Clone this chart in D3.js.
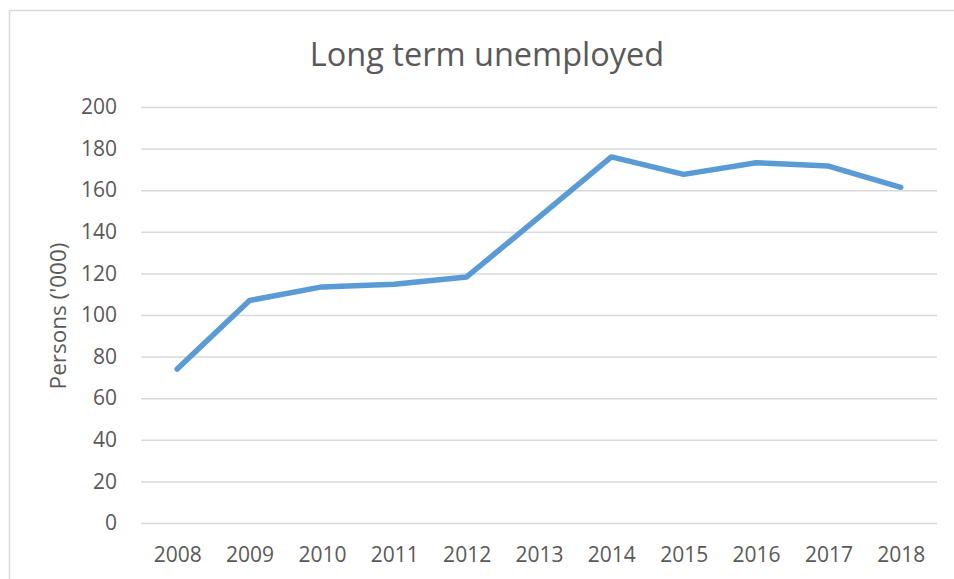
<!DOCTYPE html>
<html>
<head>
<meta charset="utf-8">
<script src="https://cdn.jsdelivr.net/npm/d3@7"></script>
<style>
  body { margin: 0; background: #fff; }
  text { font-family: "Open Sans", sans-serif; fill: #595959; }
</style>
</head>
<body>
<svg width="954" height="579"></svg>
<script>
// data
var years = ["2008", "2009", "2010", "2011", "2012", "2013", "2014", "2015", "2016", "2017", "2018"];
var persons = [74, 107, 113.5, 114.8, 118.3, 147, 176, 167.6, 173.2, 171.6, 161.4];
var yTicks = [0, 20, 40, 60, 80, 100, 120, 140, 160, 180, 200];

var svg = d3.select("svg"),
    margin = {top: 107, right: 17, bottom: 56, left: 141},
    width = +svg.attr("width") - margin.left - margin.right,
    height = +svg.attr("height") - margin.top - margin.bottom;

// chart frame (runs off the right and bottom edges like the original)
svg.append("rect")
    .attr("x", 9.5)
    .attr("y", 10.5)
    .attr("width", 960)
    .attr("height", 600)
    .attr("fill", "none")
    .attr("stroke", "#d9d9d9")
    .attr("stroke-width", 1.5);

var x = d3.scalePoint()
    .domain(years)
    .range([0, width])
    .padding(0.5);

var y = d3.scaleLinear()
    .domain([0, 200])
    .range([height, 0]);

var g = svg.append("g")
    .attr("transform", "translate(" + margin.left + "," + margin.top + ")");

// gridlines + y labels
var yAxis = g.append("g")
    .attr("class", "axis axis--y")
    .call(d3.axisLeft(y).tickValues(yTicks).tickSize(-width).tickPadding(24));

yAxis.select(".domain").remove();
yAxis.selectAll(".tick line")
    .attr("stroke", "#d9d9d9")
    .attr("stroke-width", 1.5);
yAxis.selectAll(".tick text")
    .style("font-size", "21px")
    .attr("fill", "#595959");

// x labels
var xAxis = g.append("g")
    .attr("class", "axis axis--x")
    .attr("transform", "translate(0," + height + ")")
    .call(d3.axisBottom(x).tickSize(0).tickPadding(24));

xAxis.select(".domain").remove();
xAxis.selectAll(".tick text")
    .style("font-size", "21px")
    .attr("fill", "#595959");

var line = d3.line()
    .x(function(d, i) { return x(years[i]); })
    .y(function(d) { return y(d); });

g.append("path")
    .datum(persons)
    .attr("d", line)
    .attr("fill", "none")
    .attr("stroke", "#5b9bd5")
    .attr("stroke-width", 5.5)
    .attr("stroke-linejoin", "round")
    .attr("stroke-linecap", "round");

svg.append("text")
    .text("Long term unemployed")
    .attr("x", 487)
    .attr("y", 66)
    .style("text-anchor", "middle")
    .style("font-size", "32.5px");

svg.append("text")
    .text("Persons ('000)")
    .attr("transform", "translate(66," + (margin.top + height / 2 + 1) + ") rotate(-90)")
    .style("text-anchor", "middle")
    .style("font-size", "22.5px");
</script>
</body>
</html>
